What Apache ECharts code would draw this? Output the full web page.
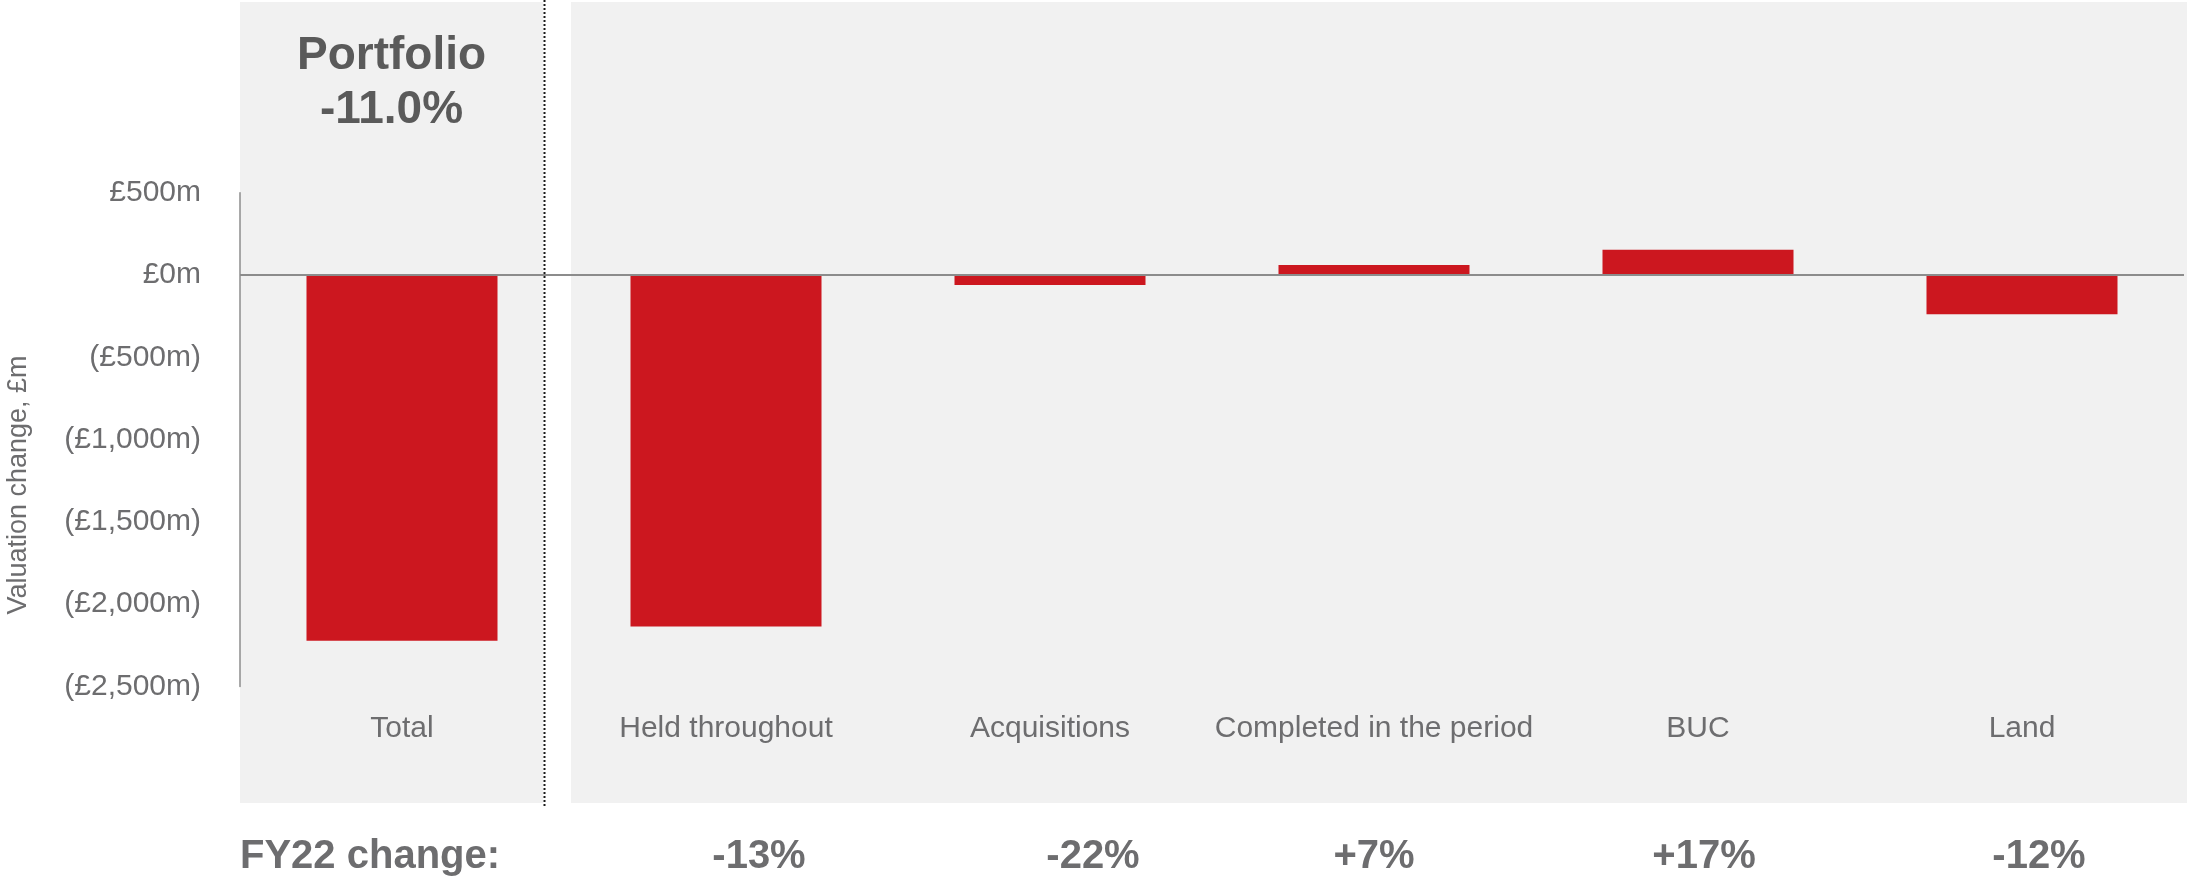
<!DOCTYPE html>
<html>
<head>
<meta charset="utf-8">
<title>Valuation change by category</title>
<script src="https://cdn.jsdelivr.net/npm/echarts@6/dist/echarts.min.js"></script>
<style>
  html, body { margin: 0; padding: 0; background: #ffffff; }
  #chart { width: 2187px; height: 879px; }
</style>
</head>
<body>
<div id="chart"></div>
<script>
// Categories and valuation change (£m)
const categories = ['Total', 'Held throughout', 'Acquisitions', 'Completed in the period', 'BUC', 'Land'];
const valuationChange = [-2222, -2136, -61, 60, 154, -239];
// FY22 percentage change shown beneath each category
const fy22Change = ['', '-13%', '-22%', '+7%', '+17%', '-12%'];
// Value axis ticks and their labels
const yTickValues = [500, 0, -500, -1000, -1500, -2000, -2500];
const yTickLabels = ['£500m', '£0m', '(£500m)', '(£1,000m)', '(£1,500m)', '(£2,000m)', '(£2,500m)'];
const portfolioTitle = 'Portfolio';
const portfolioChange = '-11.0%';
const fy22Heading = 'FY22 change:';
const yAxisTitle = 'Valuation change, £m';

// horizontal nudge (px) of each FY22 figure relative to its category centre
const fyLabelNudge = [0, 33, 43, 0, 6, 17];

const FONT = '"Liberation Sans", Arial, sans-serif';
const GREY_TEXT = '#6d6d6f';
const DARK_TEXT = '#5a5a5a';
const BAR_RED = '#cc171f';

const fyRich = {};
fyLabelNudge.forEach((n, i) => {
  fyRich['p' + i] = {
    fontFamily: FONT, fontSize: 40, fontWeight: 'bold', color: GREY_TEXT,
    padding: [0, 0, 0, n * 2]
  };
});

const chart = echarts.init(document.getElementById('chart'), null, { renderer: 'canvas' });

chart.setOption({
  backgroundColor: '#ffffff',
  animation: false,
  grid: { left: 240, right: 3, top: 192.7, bottom: 192.5, containLabel: false },
  xAxis: [
    {
      type: 'category',
      data: categories,
      position: 'bottom',
      axisLine: { show: false },
      axisTick: { show: false },
      splitLine: { show: false },
      axisLabel: {
        interval: 0, margin: 27,
        fontFamily: FONT, fontSize: 30, color: GREY_TEXT
      }
    },
    {
      type: 'category',
      data: fy22Change,
      position: 'bottom',
      offset: 142,
      axisLine: { show: false },
      axisTick: { show: false },
      splitLine: { show: false },
      axisLabel: {
        interval: 0, margin: 8,
        formatter: (v, i) => v ? '{p' + i + '|' + v + '}' : '',
        rich: fyRich
      }
    }
  ],
  yAxis: {
    type: 'value',
    min: -2500, max: 500, interval: 500,
    axisLine: { show: true, lineStyle: { color: '#8c8c8c', width: 1.5 } },
    axisTick: { show: false },
    splitLine: { show: false },
    axisLabel: {
      margin: 39,
      fontFamily: FONT, fontSize: 30, color: GREY_TEXT,
      formatter: v => {
        const k = yTickValues.indexOf(v);
        return k >= 0 ? yTickLabels[k] : '';
      }
    }
  },
  series: [
    {
      type: 'bar',
      xAxisIndex: 0,
      data: valuationChange,
      barWidth: 191,
      itemStyle: { color: BAR_RED },
      markLine: {
        silent: true,
        symbol: 'none',
        label: { show: false },
        lineStyle: { color: '#8c8c8c', width: 2, type: 'solid' },
        data: [{ yAxis: 0 }]
      }
    }
  ],
  graphic: [
    // shaded panels behind the total and the breakdown
    { type: 'rect', z: -10, shape: { x: 240, y: 2, width: 303, height: 801 }, style: { fill: '#f1f1f1' } },
    { type: 'rect', z: -10, shape: { x: 571, y: 2, width: 1616, height: 801 }, style: { fill: '#f1f1f1' } },
    // divider between total and breakdown
    { type: 'line', z: 5, shape: { x1: 544.5, y1: 0, x2: 544.5, y2: 806 },
      style: { stroke: '#1a1a1a', lineWidth: 2, lineDash: [2, 2] } },
    { type: 'text', z: 5, x: 391.5, y: 56,
      style: { text: portfolioTitle, fontFamily: FONT, fontSize: 46, fontWeight: 'bold', fill: DARK_TEXT, align: 'center', verticalAlign: 'middle' } },
    { type: 'text', z: 5, x: 391.5, y: 110.5,
      style: { text: portfolioChange, fontFamily: FONT, fontSize: 46, fontWeight: 'bold', fill: DARK_TEXT, align: 'center', verticalAlign: 'middle' } },
    { type: 'text', z: 5, x: 240, y: 856.5,
      style: { text: fy22Heading, fontFamily: FONT, fontSize: 40, fontWeight: 'bold', fill: GREY_TEXT, align: 'left', verticalAlign: 'middle' } },
    { type: 'text', z: 5, x: 18.5, y: 485, rotation: Math.PI / 2,
      style: { text: yAxisTitle, fontFamily: FONT, fontSize: 27, fill: GREY_TEXT, align: 'center', verticalAlign: 'middle' } }
  ]
});
</script>
</body>
</html>
